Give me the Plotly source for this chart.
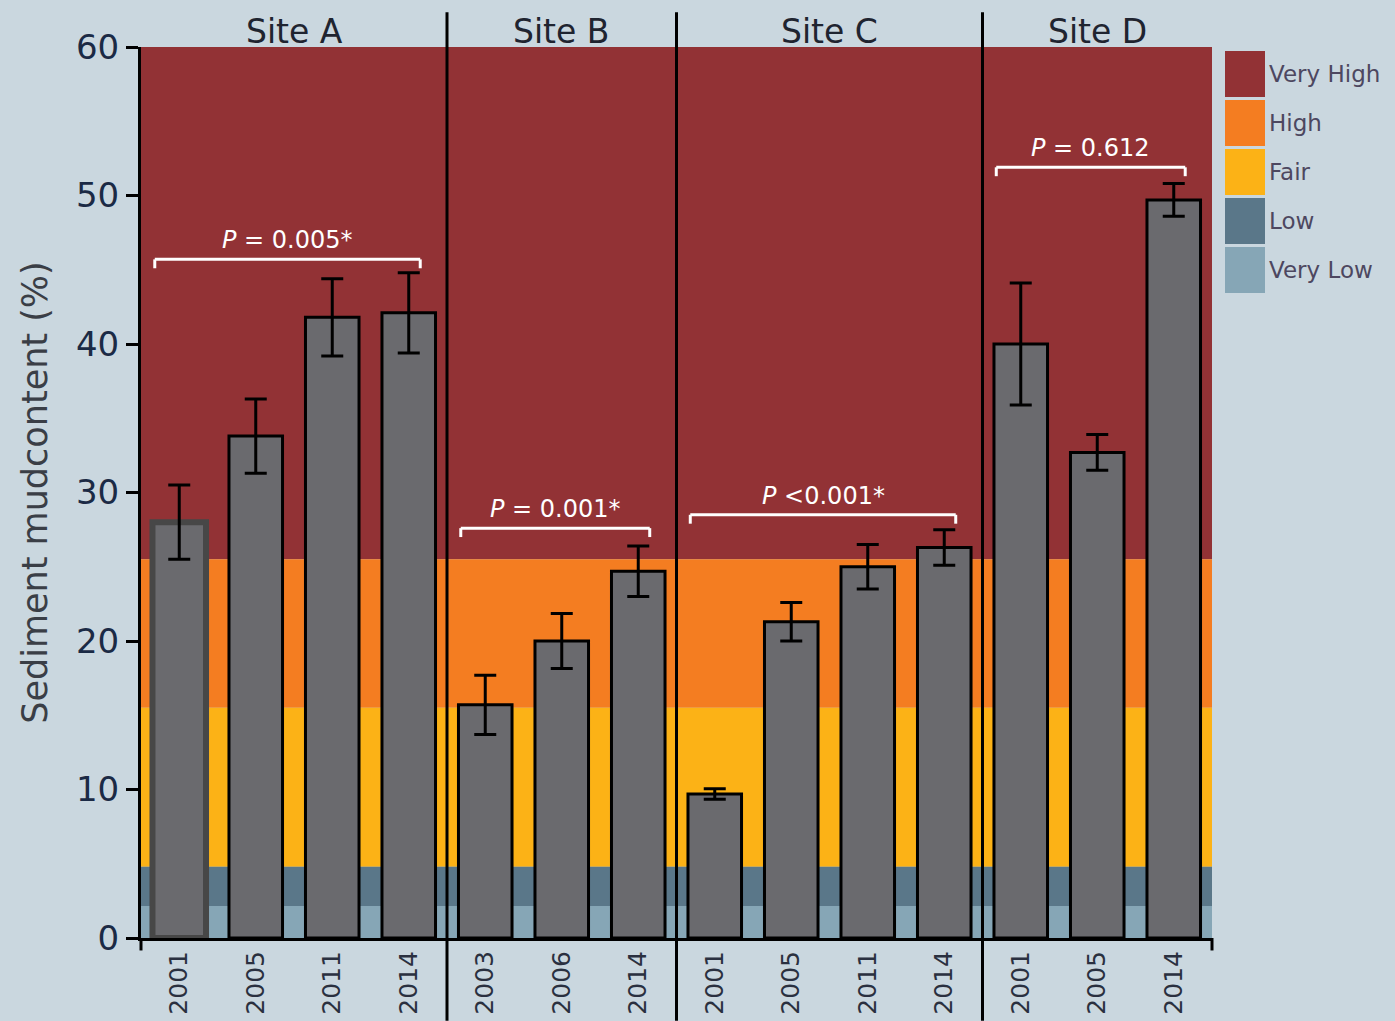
import plotly.graph_objects as go

# ---------------- data ----------------
site_names = ["Site A", "Site B", "Site C", "Site D"]
site_years = [
    ["2001", "2005", "2011", "2014"],
    ["2003", "2006", "2014"],
    ["2001", "2005", "2011", "2014"],
    ["2001", "2005", "2014"],
]
site_means = [
    [28.0, 33.8, 41.8, 42.1],
    [15.7, 20.0, 24.7],
    [9.7, 21.3, 25.0, 26.3],
    [40.0, 32.7, 49.7],
]
site_errors = [
    [2.5, 2.5, 2.6, 2.7],
    [2.0, 1.85, 1.7],
    [0.35, 1.3, 1.5, 1.2],
    [4.1, 1.2, 1.1],
]
p_labels = ["<i>P</i> = 0.005*", "<i>P</i> = 0.001*", "<i>P</i> &lt;0.001*", "<i>P</i> = 0.612"]
p_bracket_y = [45.7, 27.6, 28.5, 51.9]

band_names = ["Very High", "High", "Fair", "Low", "Very Low"]
band_lower = [25.5, 15.5, 4.8, 2.15, 0.0]
band_upper = [60.0, 25.5, 15.5, 4.8, 2.15]
band_colors = ["#923235", "#f47d21", "#fcb216", "#5a7789", "#86a6b6"]

y_ticks = [0, 10, 20, 30, 40, 50, 60]

# ---------------- build ----------------
FONT = "DejaVu Sans"
BG = "#cad7df"
x_ids, x_text, y_vals, e_vals = [], [], [], []
group_ranges = []
idx = 0
for s, (yrs, ms, es) in enumerate(zip(site_years, site_means, site_errors)):
    start = idx
    for yr, m, e in zip(yrs, ms, es):
        x_ids.append(f"{site_names[s]}|{yr}")
        x_text.append(yr)
        y_vals.append(m)
        e_vals.append(e)
        idx += 1
    group_ranges.append((start, idx - 1))

line_colors = ["#474747"] + ["#000000"] * (len(x_ids) - 1)
line_widths = [6] + [3] * (len(x_ids) - 1)

fig = go.Figure()
fig.add_trace(go.Bar(
    x=x_ids, y=y_vals,
    marker=dict(color="#6a6a6e", line=dict(color=line_colors, width=line_widths)),
    error_y=dict(type="data", array=e_vals, visible=True, color="black",
                 thickness=3, width=11),
    showlegend=False, hoverinfo="skip",
))

shapes = []
# background bands
for lo, hi, c in zip(band_lower, band_upper, band_colors):
    shapes.append(dict(type="rect", xref="paper", yref="y", x0=0, x1=1, y0=lo, y1=hi,
                       fillcolor=c, line=dict(width=0), layer="below"))
# group separators
for (a, b), (c, d) in zip(group_ranges[:-1], group_ranges[1:]):
    xs = (b + c) / 2
    shapes.append(dict(type="line", xref="x", yref="paper", x0=xs, x1=xs,
                       y0=-0.093, y1=1.039, line=dict(color="black", width=3)))
# extended axis ends
shapes.append(dict(type="line", xref="paper", yref="paper", x0=0, x1=0, y0=-0.014, y1=0,
                   line=dict(color="black", width=3)))
shapes.append(dict(type="line", xref="paper", yref="paper", x0=1, x1=1, y0=-0.014, y1=0,
                   line=dict(color="black", width=3)))

annotations = []
# brackets and p-values
for (a, b), lab, yb in zip(group_ranges, p_labels, p_bracket_y):
    x0, x1 = a - 0.32, b + 0.15
    shapes.append(dict(type="line", xref="x", yref="y", x0=x0, x1=x1, y0=yb, y1=yb,
                       line=dict(color="white", width=3)))
    for xx in (x0, x1):
        shapes.append(dict(type="line", xref="x", yref="y", x0=xx, x1=xx, y0=yb, y1=yb - 0.6,
                           line=dict(color="white", width=3)))
    annotations.append(dict(x=(x0 + x1) / 2, y=yb + 0.2, xref="x", yref="y", text=lab,
                            showarrow=False, yanchor="bottom",
                            font=dict(family=FONT, size=24, color="white")))
# site titles
for (a, b), name in zip(group_ranges, site_names):
    annotations.append(dict(x=(a + b) / 2, y=1.017, xref="x", yref="paper", text=name,
                            showarrow=False, yanchor="middle",
                            font=dict(family=FONT, size=33, color="#1f2430")))

# custom legend (right side)
plot_l, plot_r, plot_t, plot_b = 141, 1212, 47, 938
pw, ph = plot_r - plot_l, plot_b - plot_t
def px_x(p): return (p - plot_l) / pw
def px_y(p): return (plot_b - p) / ph
for i, (name, c) in enumerate(zip(band_names, band_colors)):
    top = 51 + i * 49
    bot = top + 46
    shapes.append(dict(type="rect", xref="paper", yref="paper",
                       x0=px_x(1225), x1=px_x(1265), y0=px_y(bot), y1=px_y(top),
                       fillcolor=c, line=dict(width=0)))
    annotations.append(dict(x=px_x(1267), y=px_y((top + bot) / 2), xref="paper", yref="paper",
                            text=name, showarrow=False, xanchor="left", yanchor="middle",
                            font=dict(family=FONT, size=23, color="#4d4760")))

fig.update_layout(
    width=1395, height=1021,
    margin=dict(l=plot_l, r=1395 - plot_r, t=plot_t, b=1021 - plot_b, autoexpand=False),
    paper_bgcolor=BG, plot_bgcolor=BG,
    bargap=0.3,
    shapes=shapes, annotations=annotations,
    showlegend=False,
    xaxis=dict(type="category", tickvals=x_ids, ticktext=x_text, tickangle=-90,
               showline=True, linecolor="black", linewidth=3, ticks="",
               showgrid=False, zeroline=False,
               tickfont=dict(family=FONT, size=25, color="#2a3040"),
               range=[-0.5, len(x_ids) - 0.5]),
    yaxis=dict(range=[0, 60], tickvals=y_ticks, showline=True, linecolor="black",
               linewidth=3, ticks="outside", ticklen=12, tickwidth=3, tickcolor="black",
               showgrid=False, zeroline=False,
               tickfont=dict(family=FONT, size=34, color="#1b2a45"),
               title=dict(text="Sediment mudcontent (%)", standoff=18,
                          font=dict(family=FONT, size=35, color="#3a3e46"))),
)

fig.write_html("out.html")
